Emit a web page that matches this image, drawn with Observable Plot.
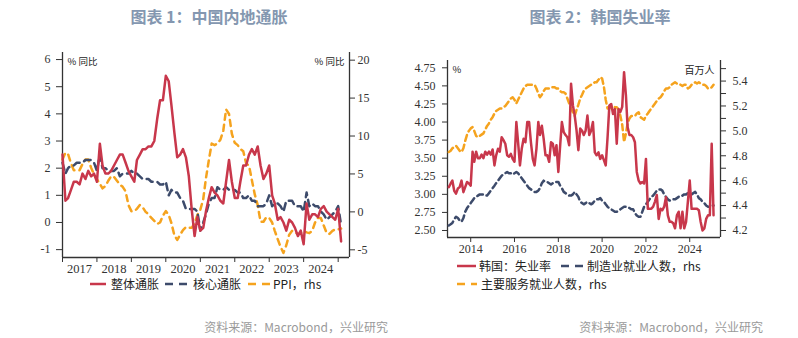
<!DOCTYPE html>
<html><head><meta charset="utf-8">
<script src="https://cdn.jsdelivr.net/npm/d3@7"></script>
<script src="https://cdn.jsdelivr.net/npm/@observablehq/plot@0.6"></script>
<style>
body{margin:0;background:#fff;}
#root{position:relative;width:798px;height:338px;overflow:hidden;font-family:"Noto Sans CJK SC",sans-serif;}
.title{position:absolute;top:4px;text-align:center;font-size:16px;font-weight:bold;color:#8497b0;white-space:nowrap;}
.chart{position:absolute;top:40px;}
.lg{position:absolute;font-size:12px;color:#222;white-space:nowrap;line-height:13px;}
.sw{position:absolute;}
.foot{position:absolute;top:318px;font-size:12px;color:#9a9a9a;white-space:nowrap;text-align:right;width:300px;}
</style></head>
<body><div id="root"></div>
<script>
// ---------- Chart 1: China inflation (monthly, 2017-01 .. 2025-02) ----------
const chinaCPI = [
 2.5,0.8,0.9,1.2,1.5,1.5,1.4,1.8,1.6,1.9,1.7,1.8,
 1.5,2.9,2.1,1.8,1.8,1.9,2.1,2.3,2.5,2.5,2.2,1.9,
 1.7,1.5,2.3,2.5,2.7,2.7,2.8,2.8,3.0,3.8,4.5,4.5,
 5.4,5.2,4.3,3.3,2.4,2.5,2.7,2.4,1.7,0.5,-0.5,0.2,
 -0.3,-0.2,0.4,0.9,1.3,1.1,1.0,0.8,0.7,1.5,2.3,1.5,
 0.9,0.9,1.5,2.1,2.1,2.5,2.7,2.5,2.8,2.1,1.6,1.8,
 2.1,1.0,0.7,0.1,0.2,0.0,-0.3,0.1,0.0,-0.2,-0.5,-0.3,
 -0.8,0.7,0.1,0.3,0.3,0.2,0.5,0.6,0.4,0.3,0.2,0.1,
 0.5,-0.7];
const chinaCore = [
 2.2,1.8,2.0,2.1,2.1,2.2,2.2,2.2,2.3,2.3,2.3,2.2,
 1.9,2.5,2.0,2.0,1.9,1.9,1.9,2.0,1.7,1.8,1.8,1.8,
 1.9,1.8,1.8,1.7,1.6,1.6,1.6,1.5,1.5,1.5,1.4,1.4,
 1.5,1.0,1.2,1.1,1.1,0.9,0.8,0.5,0.5,0.5,0.5,0.4,
 -0.3,0.0,0.3,0.7,0.9,0.9,1.3,1.2,1.2,1.3,1.2,1.2,
 1.2,1.1,1.1,0.9,0.9,1.0,0.8,0.8,0.6,0.6,0.6,0.7,
 1.0,0.6,0.7,0.7,0.6,0.4,0.8,0.8,0.8,0.6,0.6,0.6,
 0.4,1.1,0.6,0.7,0.6,0.6,0.4,0.3,0.1,0.2,0.3,0.4,
 0.6,-0.1];
const chinaPPI = [
 6.9,7.8,7.6,6.4,5.5,5.5,5.5,6.3,6.9,6.9,5.8,4.9,
 4.3,3.7,3.1,3.4,4.1,4.7,4.6,4.1,3.6,3.3,2.7,0.9,
 0.1,0.1,0.4,0.9,0.6,0.0,-0.3,-0.8,-1.2,-1.6,-1.4,-0.5,
 0.1,-0.4,-1.5,-3.1,-3.7,-3.0,-2.4,-2.0,-2.1,-2.1,-1.5,-0.4,
 0.3,1.7,4.4,6.8,9.0,8.8,9.0,9.5,10.7,13.5,12.9,10.3,
 9.1,8.8,8.3,8.0,6.4,6.1,4.2,2.3,0.9,-1.3,-1.3,-0.7,
 -0.8,-1.4,-2.5,-3.6,-4.6,-5.4,-4.4,-3.0,-2.5,-2.6,-3.0,-2.7,
 -2.5,-2.7,-2.8,-2.5,-1.4,-0.8,-0.8,-1.8,-2.8,-2.9,-2.5,-2.3,
 -2.3,-2.2];
const chinaLeftTicks = [-1,0,1,2,3,4,5,6];
const chinaRightTicks = [-5,0,5,10,15,20];
const chinaYears = [2017,2018,2019,2020,2021,2022,2023,2024];

// ---------- Chart 2: Korea (monthly, 2013-01 .. 2025-02) ----------
const krUnemp = [
 3.10,3.15,3.19,3.05,3.01,3.08,3.10,3.19,3.03,3.10,3.17,3.15,
 3.12,3.59,3.45,3.59,3.50,3.50,3.55,3.50,3.59,3.55,3.59,3.55,
 3.62,3.40,3.54,3.63,3.59,3.79,3.75,3.70,3.54,3.52,3.56,3.49,
 3.45,4.00,3.72,3.40,3.63,3.77,3.72,4.00,4.00,3.72,3.49,3.40,
 3.63,4.00,3.82,3.95,3.77,3.54,3.54,3.45,3.72,3.70,3.54,3.68,
 3.31,3.68,4.00,3.86,3.82,3.79,3.68,4.53,4.23,4.09,3.88,3.61,
 3.91,3.88,3.82,3.88,4.09,3.82,3.88,4.00,3.58,3.54,3.58,3.49,
 3.54,3.47,3.40,3.79,4.23,4.25,4.11,4.18,3.70,4.18,4.14,4.21,
 4.69,4.37,3.93,3.82,3.82,3.79,3.72,3.31,3.19,3.15,3.17,3.15,
 3.49,2.80,2.80,2.80,2.83,2.90,2.99,2.66,2.80,2.78,2.83,2.96,
 2.71,2.62,2.62,2.60,2.53,2.71,2.76,2.53,2.76,2.53,2.62,2.90,
 3.19,2.80,2.80,2.80,2.80,2.78,2.62,2.50,2.53,2.66,2.71,2.71,
 3.70,2.71];
const krMfg = [
 4.24,4.25,4.26,4.29,4.31,4.30,4.28,4.27,4.30,4.35,4.38,4.40,
 4.42,4.44,4.46,4.47,4.48,4.49,4.49,4.49,4.48,4.48,4.50,4.52,
 4.54,4.56,4.58,4.60,4.62,4.64,4.65,4.66,4.67,4.66,4.66,4.65,
 4.66,4.67,4.66,4.64,4.62,4.60,4.58,4.56,4.54,4.53,4.52,4.51,
 4.51,4.52,4.54,4.58,4.60,4.59,4.59,4.58,4.57,4.58,4.59,4.59,
 4.59,4.56,4.54,4.51,4.50,4.49,4.48,4.48,4.49,4.51,4.49,4.47,
 4.43,4.42,4.41,4.42,4.43,4.42,4.41,4.42,4.44,4.45,4.45,4.46,
 4.44,4.43,4.41,4.39,4.38,4.37,4.36,4.35,4.35,4.36,4.37,4.38,
 4.39,4.39,4.39,4.38,4.37,4.37,4.34,4.32,4.31,4.31,4.35,4.39,
 4.41,4.43,4.45,4.47,4.48,4.50,4.52,4.53,4.53,4.52,4.49,4.47,
 4.45,4.44,4.44,4.45,4.45,4.46,4.47,4.47,4.48,4.49,4.49,4.50,
 4.49,4.49,4.50,4.51,4.49,4.46,4.45,4.43,4.42,4.40,4.39,4.39,
 4.40,4.40];
const krSvc = [
 4.83,4.84,4.86,4.87,4.88,4.86,4.84,4.83,4.86,4.92,4.97,5.00,
 5.02,5.03,5.00,4.96,4.95,4.96,4.97,4.98,5.01,5.04,5.06,5.09,
 5.11,5.14,5.16,5.17,5.18,5.18,5.19,5.20,5.22,5.24,5.26,5.27,
 5.25,5.22,5.25,5.28,5.31,5.34,5.36,5.37,5.37,5.37,5.37,5.37,
 5.34,5.30,5.27,5.29,5.32,5.34,5.34,5.34,5.35,5.35,5.35,5.34,
 5.34,5.32,5.31,5.31,5.30,5.26,5.22,5.18,5.15,5.12,5.17,5.21,
 5.26,5.29,5.32,5.34,5.35,5.36,5.37,5.38,5.39,5.39,5.41,5.43,
 5.42,5.35,5.25,5.18,5.18,5.20,5.20,5.19,5.19,5.17,5.12,5.05,
 4.91,4.98,5.06,5.10,5.12,5.12,5.12,5.14,5.15,5.11,5.10,5.09,
 5.12,5.14,5.16,5.18,5.20,5.22,5.24,5.26,5.27,5.29,5.32,5.34,
 5.34,5.35,5.37,5.38,5.39,5.38,5.38,5.37,5.36,5.37,5.37,5.34,
 5.35,5.37,5.38,5.39,5.38,5.39,5.38,5.37,5.37,5.36,5.34,5.34,
 5.35,5.37];
const krLeftTicks = [2.50,2.75,3.00,3.25,3.50,3.75,4.00,4.25,4.50,4.75];
const krRightTicks = [4.2,4.3,4.4,4.5,4.6,4.7,4.8,4.9,5.0,5.1,5.2,5.3,5.4,5.5];
const krYears = [2014,2016,2018,2020,2022,2024];

// ---------- styles ----------
const RED = "#c8374b", NAVY = "#3d4b6b", ORANGE = "#f5a31e", AXIS = "#333";
const root = document.getElementById("root");
const U = (y,m,d=1) => new Date(Date.UTC(y,m,d));
const fmtNum = d => String(d);

// ---------- chart 1 ----------
const cDates = d3.utcMonth.range(U(2017,0), U(2025,2));
const ppiToL = v => 0.39 + v * 0.2794;
const lToPpi = v => (v - 0.39) / 0.2794;
const cRows = cDates.map((d, i) => ({date: d, cpi: chinaCPI[i], core: chinaCore[i], ppi: ppiToL(chinaPPI[i])}));
const cX = [U(2017,0), U(2025,4)];
const cY = [-1.29, 6.26];

const chart1 = Plot.plot({
  width: 399, height: 240, marginLeft: 62, marginRight: 50, marginTop: 12, marginBottom: 23,
  style: {fontFamily: "'Liberation Serif', serif", fontSize: "12px", color: AXIS, background: "transparent"},
  x: {type: "utc", domain: cX},
  y: {domain: cY},
  marks: [
    Plot.axisY(chinaLeftTicks, {anchor: "left", tickSize: 6, tickPadding: 6, label: null, tickFormat: fmtNum}),
    Plot.axisY(chinaRightTicks.map(ppiToL), {anchor: "right", tickSize: 5, tickPadding: 3, label: null, tickFormat: d => String(Math.round(lToPpi(d)))}),
    Plot.axisX(chinaYears.concat([2025]).map(y => U(y,0)), {anchor: "bottom", tickSize: 5, label: null, tickFormat: () => ""}),
    Plot.axisX(chinaYears.map(y => U(y,6)), {anchor: "bottom", tickSize: 0, tickPadding: 7, label: null, tickFormat: d => String(d.getUTCFullYear()), fontSize: 12.5}),
    Plot.ruleX([cX[0], cX[1]], {stroke: AXIS, strokeWidth: 1.3}),
    Plot.ruleY([cY[0]], {stroke: AXIS, strokeWidth: 1.3}),
    Plot.text(["% 同比"], {frameAnchor: "top-left", dx: 5, dy: 6, fontFamily: "'Noto Sans CJK SC'", fontSize: 9.5, fill: "#222"}),
    Plot.text(["% 同比"], {frameAnchor: "top-right", dx: -5, dy: 6, fontFamily: "'Noto Sans CJK SC'", fontSize: 9.5, fill: "#222"}),
    Plot.lineY(cRows, {x: "date", y: "ppi", stroke: ORANGE, strokeWidth: 2.5, strokeDasharray: "6,5"}),
    Plot.lineY(cRows, {x: "date", y: "core", stroke: NAVY, strokeWidth: 2.5, strokeDasharray: "7,5"}),
    Plot.lineY(cRows, {x: "date", y: "cpi", stroke: RED, strokeWidth: 2.5})
  ]
});
chart1.classList.add("chart");
chart1.style.left = "0px";
root.appendChild(chart1);

// ---------- chart 2 ----------
const kDates = d3.utcMonth.range(U(2013,0), U(2025,2));
const rToL = v => 2.5 + (v - 4.2) * 1.7221;
const lToR = v => 4.2 + (v - 2.5) / 1.7221;
const kRows = kDates.map((d, i) => ({date: d, u: krUnemp[i], mfg: rToL(krMfg[i]), svc: rToL(krSvc[i])}));
const kX = [U(2012,11,10), U(2025,4,28)];
const kY = [2.403, 4.851];

const chart2 = Plot.plot({
  width: 399, height: 215, marginLeft: 48, marginRight: 78, marginTop: 20, marginBottom: 18,
  style: {fontFamily: "'Liberation Serif', serif", fontSize: "12px", color: AXIS, background: "transparent"},
  x: {type: "utc", domain: kX},
  y: {domain: kY},
  marks: [
    Plot.axisY(krLeftTicks, {anchor: "left", tickSize: 5, tickPadding: 7, label: null, tickFormat: d3.format(".2f")}),
    Plot.axisY(krRightTicks.map(rToL), {anchor: "right", tickSize: 5, tickPadding: 7, label: null,
      tickFormat: d => { const r = Math.round(lToR(d) * 10); return r % 2 === 0 ? (r / 10).toFixed(1) : ""; }}),
    Plot.axisX(krYears.map(y => U(y,0)), {anchor: "bottom", tickSize: 5, tickPadding: 2, label: null, tickFormat: d => String(d.getUTCFullYear()), fontSize: 12}),
    Plot.ruleX([kX[0], kX[1]], {stroke: AXIS, strokeWidth: 1.3}),
    Plot.ruleY([kY[0]], {stroke: AXIS, strokeWidth: 1.3}),
    Plot.text(["%"], {frameAnchor: "top-left", dx: 5, dy: 6, fontFamily: "'Noto Sans CJK SC'", fontSize: 9.5, fill: "#222"}),
    Plot.text(["百万人"], {frameAnchor: "top-right", dx: -6, dy: 6, fontFamily: "'Noto Sans CJK SC'", fontSize: 10, fill: "#222"}),
    Plot.lineY(kRows, {x: "date", y: "svc", stroke: ORANGE, strokeWidth: 2.5, strokeDasharray: "6,4"}),
    Plot.lineY(kRows, {x: "date", y: "mfg", stroke: NAVY, strokeWidth: 2.5, strokeDasharray: "6,4"}),
    Plot.lineY(kRows, {x: "date", y: "u", stroke: RED, strokeWidth: 2.5})
  ]
});
chart2.classList.add("chart");
chart2.style.left = "399px";
root.appendChild(chart2);

// ---------- titles, legends, footers ----------
function el(tag, cls, text, css) {
  const e = document.createElement(tag);
  if (cls) e.className = cls;
  if (text != null) e.textContent = text;
  Object.assign(e.style, css);
  root.appendChild(e);
  return e;
}
function swatch(x, y, w, color, dash) {
  const ns = "http://www.w3.org/2000/svg";
  const s = document.createElementNS(ns, "svg");
  s.setAttribute("width", w); s.setAttribute("height", 6);
  s.setAttribute("class", "sw");
  s.style.left = x + "px"; s.style.top = (y - 3) + "px";
  const l = document.createElementNS(ns, "line");
  l.setAttribute("x1", 0); l.setAttribute("x2", w); l.setAttribute("y1", 3); l.setAttribute("y2", 3);
  l.setAttribute("stroke", color); l.setAttribute("stroke-width", 2.5);
  if (dash) l.setAttribute("stroke-dasharray", dash);
  s.appendChild(l);
  root.appendChild(s);
}
el("div", "title", "图表 1：中国内地通胀", {left: "109px", width: "200px"});
el("div", "title", "图表 2：韩国失业率", {left: "500px", width: "200px"});

// legend chart 1 (y ≈ 284)
swatch(90, 284, 16, RED);
el("div", "lg", "整体通胀", {left: "111px", top: "277px"});
swatch(165, 284, 22, NAVY, "8,6");
el("div", "lg", "核心通胀", {left: "193px", top: "277px"});
swatch(248, 284, 22, ORANGE, "8,6");
el("div", "lg", "PPI，rhs", {left: "273px", top: "277px"});

// legend chart 2
swatch(457, 266, 19, RED);
el("div", "lg", "韩国：失业率", {left: "479px", top: "259px"});
swatch(561, 266, 24, NAVY, "8,6");
el("div", "lg", "制造业就业人数，rhs", {left: "587px", top: "259px"});
swatch(457, 284, 20, ORANGE, "8,6");
el("div", "lg", "主要服务就业人数，rhs", {left: "481px", top: "277px"});

el("div", "foot", "资料来源：Macrobond，兴业研究", {left: "88px"});
el("div", "foot", "资料来源：Macrobond，兴业研究", {left: "463px"});
</script>
</body></html>
